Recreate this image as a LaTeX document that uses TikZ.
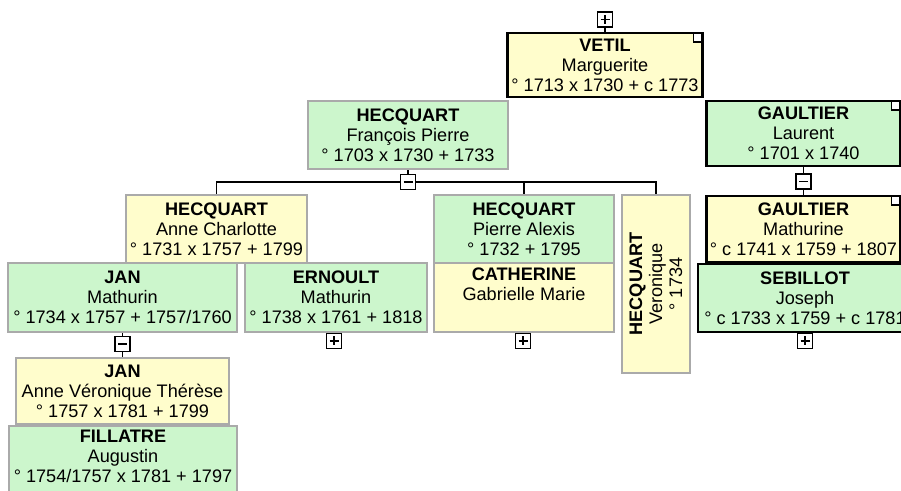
\documentclass[tikz,border=0pt]{standalone}
\usepackage{fontspec}
\setmainfont{Liberation Sans}
\usetikzlibrary{calc,backgrounds}
\definecolor{yel}{HTML}{FFFDCC}
\definecolor{grn}{HTML}{CCF6CC}
\definecolor{edgegray}{HTML}{AAAAAA}
\tikzset{
  fambox/.style={rectangle, draw=edgegray, line width=0.9pt, inner sep=0pt, align=center,
    font=\fontsize{13.6}{15}\selectfont, text=black},
  yelbox/.style={fambox, fill=yel},
  grnbox/.style={fambox, fill=grn},
  txt/.style={inner sep=0pt, align=center, font=\fontsize{13.6}{15}\selectfont, text=black},
  wh/.style 2 args={minimum width=#1*0.75pt, minimum height=#2*0.75pt},
  thickbox/.style={draw=black, line width=2.1pt,
    path picture={\draw[black, line width=1.1pt, fill=white]
      ($(path picture bounding box.north east)+(-9,0)$) rectangle
      ($(path picture bounding box.north east)+(0,9)$);}},
  pmbox/.style={rectangle, draw=black, line width=0.85pt, fill=white,
    minimum size=15*0.75pt, inner sep=0pt},
  plusbox/.style={pmbox, path picture={\draw[line width=0.9pt]
      ($(path picture bounding box.center)+(-4.5,0)$) -- ++(9,0)
      ($(path picture bounding box.center)+(0,-4.5)$) -- ++(0,9);}},
  minusbox/.style={pmbox, path picture={\draw[line width=0.9pt]
      ($(path picture bounding box.center)+(-4.5,0)$) -- ++(9,0);}},
  link/.style={draw=black, line width=0.9pt}
}
\begin{document}
\begin{tikzpicture}[x=0.75pt, y=-0.75pt]
\useasboundingbox (0,0) rectangle (901,491);
\clip (0,0) rectangle (901,491);
\begin{scope}[on background layer]
  \fill[white] (0,0) rectangle (901,491);
\end{scope}

% persons
\node[yelbox, thickbox, wh={195}{64}] (vetil) at (605,65)
  {\textbf{VETIL}\\Marguerite\\° 1713 x 1730 + c 1773};
\node[grnbox, wh={200}{68}] (hf) at (408,135)
  {\textbf{HECQUART}\\François Pierre\\° 1703 x 1730 + 1733};
\node[grnbox, thickbox, wh={194}{65}] (gl) at (803.5,133.5)
  {\textbf{GAULTIER}\\Laurent\\° 1701 x 1740};
\node[yelbox, thickbox, wh={194}{66}] (gm) at (803.5,229)
  {\textbf{GAULTIER}\\Mathurine\\° c 1741 x 1759 + 1807};
\node[grnbox, thickbox, wh={214}{68}] (se) at (805,298)
  {\textbf{SEBILLOT}\\Joseph\\° c 1733 x 1759 + c 1781};
\node[yelbox, wh={181}{68}] (ac) at (216.5,229)
  {\textbf{HECQUART}\\Anne Charlotte\\° 1731 x 1757 + 1799};
\node[grnbox, wh={229}{69}] (jm) at (122.5,297.5)
  {\textbf{JAN}\\Mathurin\\° 1734 x 1757 + 1757/1760};
\node[grnbox, wh={182}{69}] (em) at (336,297.5)
  {\textbf{ERNOULT}\\Mathurin\\° 1738 x 1761 + 1818};
\node[grnbox, wh={180}{68}] (pa) at (524,229)
  {\textbf{HECQUART}\\Pierre Alexis\\° 1732 + 1795};
\node[yelbox, wh={180}{69}] (ca) at (524,297.5)
  {\textbf{CATHERINE}\\Gabrielle Marie\\\strut};
\node[yelbox, rotate=90, wh={178}{68}] (ve) at (656,284)
  {\textbf{HECQUART}\\Veronique\\° 1734};
\node[yelbox, wh={213}{66}] (av) at (122.5,391)
  {\textbf{JAN}\\Anne Véronique Thérèse\\° 1757 x 1781 + 1799};
\node[grnbox, wh={228}{72}] (fi) at (123,462) {};
\node[txt] (fit) at (123,456)
  {\textbf{FILLATRE}\\Augustin\\° 1754/1757 x 1781 + 1797};

% expand / collapse boxes
\node[plusbox] (p0) at (605,19.5) {};
\node[minusbox] (m1) at (408,182) {};
\node[minusbox] (m2) at (803.5,181.5) {};
\node[minusbox] (m3) at (122.5,344) {};
\node[plusbox] (p1) at (334,341) {};
\node[plusbox] (p2) at (523,341) {};
\node[plusbox] (p3) at (805,341) {};

% connectors
\begin{scope}[on background layer]
  \draw[link] (p0.center) -- (p0.center |- vetil.north);
  \draw[link] (hf.south) -- (m1.center);
  \draw[link] (ac.north) |- (m1.center) -| (ve.center |- pa.north);
  \draw[link] (pa.north) -- (pa.north |- m1.center);
  \draw[link] (gl.south) -- (gm.north);
  \draw[link] (se.south) -- (p3.center);
  \draw[link] (jm.south) -- (av.north);
  \draw[link] (p1.center) -- (p1.center |- em.south);
  \draw[link] (p2.center) -- (p2.center |- ca.south);
\end{scope}
\end{tikzpicture}
\end{document}
